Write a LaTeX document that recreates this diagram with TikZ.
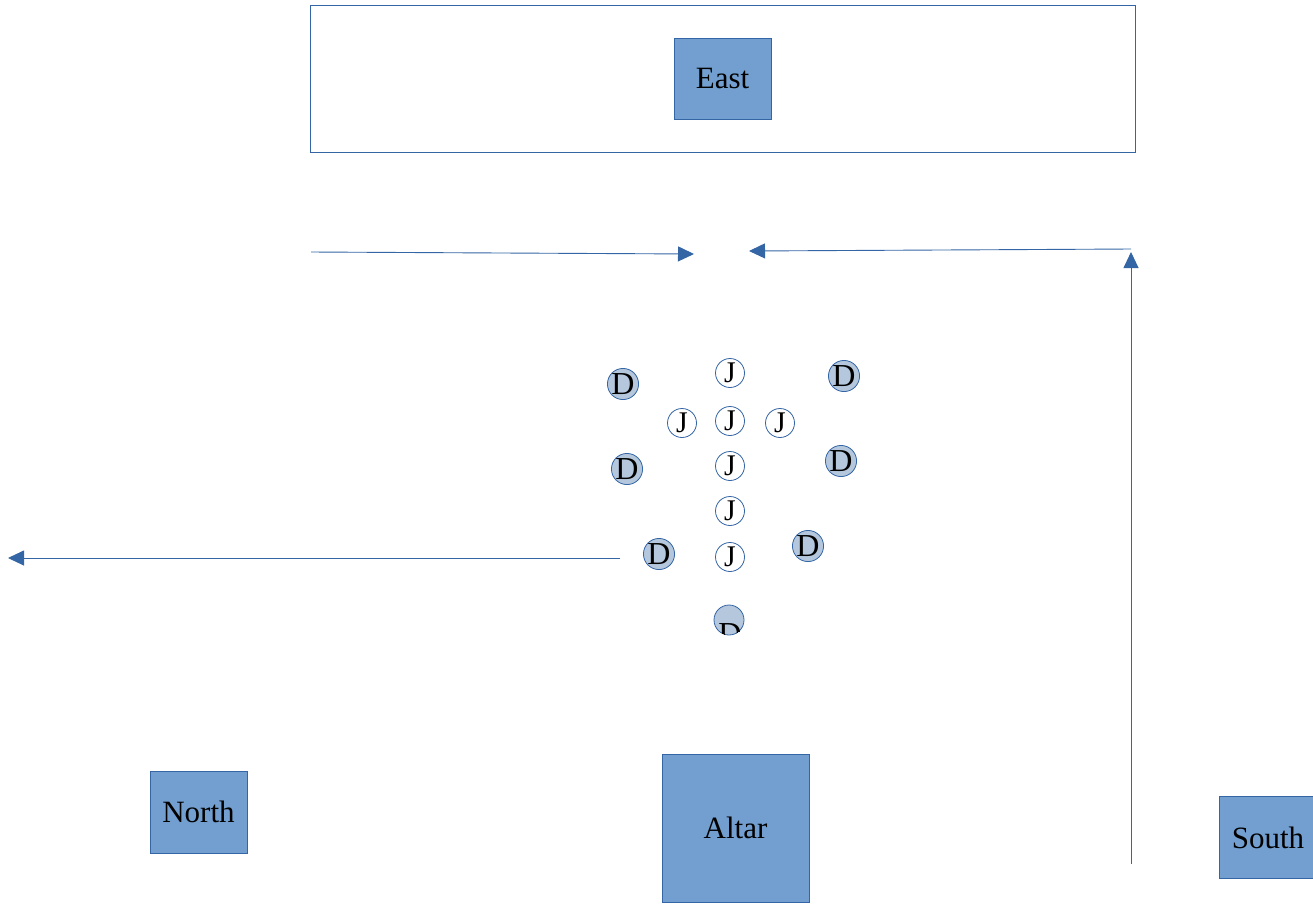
\documentclass[tikz,border=0pt]{standalone}
\usepackage{fontspec}
\setmainfont{Liberation Serif}
\usetikzlibrary{arrows.meta}
\definecolor{boxfill}{HTML}{729FCF}
\definecolor{boxline}{HTML}{3465A4}
\definecolor{dfill}{HTML}{B4C7DC}
\begin{document}
\begin{tikzpicture}[x=1pt,y=-1pt,
  lbl/.style={font=\fontsize{31}{31}\selectfont},
  sqbox/.style={draw=boxline,fill=boxfill,line width=0.8pt,inner sep=0pt,lbl},
  jcirc/.style={circle,draw=boxline,fill=white,line width=0.8pt,minimum size=29pt,inner sep=0pt,font=\fontsize{30}{30}\selectfont},
  dcirc/.style={circle,draw=boxline,fill=dfill,line width=0.8pt,minimum size=30pt,inner sep=0pt,font=\fontsize{32}{32}\selectfont},
  arr/.style={draw=boxline,line width=0.9pt,-{Triangle[length=16pt,width=15pt]}}]
\useasboundingbox (0,0) rectangle (1313,903);
\begin{scope}
\clip (0,0) rectangle (1313,903);
% frame
\node[draw=boxline,line width=0.8pt,minimum width=825pt,minimum height=147pt,inner sep=0pt,anchor=north west] (frame) at (310,5) {};
\node[sqbox,minimum width=97pt,minimum height=81pt] (east) at (722.5,78.5) {East};
\node[sqbox,minimum width=97pt,minimum height=82pt] (north) at (198.5,812) {North};
\node[sqbox,minimum width=147pt,minimum height=148pt] (altar) at (735.5,828) {Altar};
\node[sqbox,minimum width=97pt,minimum height=82pt,anchor=north west] (south) at (1219,796) {};
\node[lbl] (southlbl) at (1268,838) {South};
% arrows
\coordinate (a1s) at (311,252);
\coordinate (a1e) at (694,254);
\coordinate (a2s) at (1131,249);
\coordinate (a2e) at (749,251);
\coordinate (a3s) at (1131,864);
\coordinate (a3e) at (1131,252);
\coordinate (a4s) at (620,558);
\coordinate (a4e) at (8,558);
\draw[arr] (a1s) -- (a1e);
\draw[arr] (a2s) -- (a2e);
\draw[arr] (a3s) -- (a3e);
\draw[arr] (a4s) -- (a4e);
% J circles
\node[jcirc] (j1) at (730,373) {J};
\node[jcirc] (j2) at (682,423) {J};
\node[jcirc] (j3) at (730,421) {J};
\node[jcirc] (j4) at (780,423) {J};
\node[jcirc] (j5) at (730,466) {J};
\node[jcirc] (j6) at (730,511) {J};
\node[jcirc] (j7) at (730,557) {J};
% D circles
\node[dcirc] (d1) at (623,384) {D};
\node[dcirc] (d2) at (844,376) {D};
\node[dcirc] (d3) at (627,469) {D};
\node[dcirc] (d4) at (841,461) {D};
\node[dcirc] (d5) at (659,554) {D};
\node[dcirc] (d6) at (808,546) {D};
\node[dcirc] (d7) at (729,620) {};
\begin{scope}
\clip (d7.center) circle (15pt);
\node[font=\fontsize{32}{32}\selectfont,inner sep=0pt] (d7lbl) at (730,634) {D};
\end{scope}
\end{scope}
\end{tikzpicture}
\end{document}
